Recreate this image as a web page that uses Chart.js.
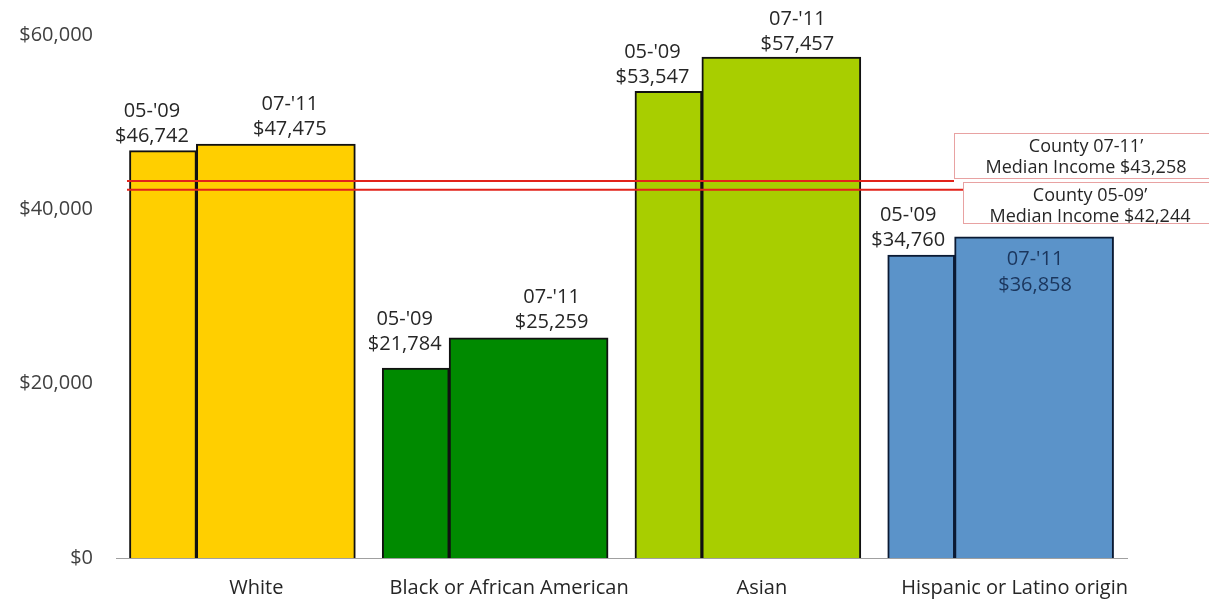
<!DOCTYPE html>
<html lang="en">
<head>
  <meta charset="UTF-8">
  <title>Median Household Income</title>
  <script src="https://cdn.jsdelivr.net/npm/chart.js"></script>
  <style>
    html, body { margin: 0; padding: 0; background: #fff; }
  </style>
</head>
<body>
  <canvas id="incomeChart" width="1209" height="600"></canvas>
  <script>
    // data
    const categories = ['White', 'Black or African American', 'Asian', 'Hispanic or Latino origin'];
    const periodLabels = ["05-'09", "07-'11"];
    const income0509 = [46742, 21784, 53547, 34760];
    const income0711 = [47475, 25259, 57457, 36858];
    const countyLabels = ['County 07-11\u2019', 'County 05-09\u2019'];
    const countyMedians = [43258, 42244];
    const yTicks = [0, 20000, 40000, 60000];

    const barColors = ['#FFCF00', '#008A00', '#A8CE00', '#5B93C9'];
    const edgeColors = ['#111111', '#111111', '#111111', '#0B1A33'];
    const FONT = '"Open Sans", "Noto Sans", sans-serif';

    // layout, in pixels: the narrow bar sits left of the wide one, the pair centred in its slot
    const NARROW = 67, WIDE = 159, SLOT = 253;
    const narrowShift = (NARROW / 2 - (NARROW + WIDE) / 2) / SLOT;
    const wideShift = (NARROW + WIDE / 2 - (NARROW + WIDE) / 2) / SLOT;

    // hand placed label nudges [dx, gap above bar top]; null = inside the bar
    const labelNudge = [
      [[-11, 14], [-11, 24], [-16, 14], [-13, 15]],
      [[14, 15], [23, 16], [16, 13], null]
    ];
    const countyBoxes = [
      { x: 954, y: 133, h: 45, cx: 1086 },
      { x: 963, y: 182, h: 41, cx: 1090 }
    ];

    const money = v => '$' + v.toLocaleString('en-US');

    const labelsPlugin = {
      id: 'labelsPlugin',
      afterDatasetsDraw(chart) {
        const { ctx, chartArea, scales } = chart;
        ctx.save();

        // county median lines and their boxes
        countyMedians.forEach((v, k) => {
          const y = scales.y.getPixelForValue(v);
          const b = countyBoxes[k];
          ctx.strokeStyle = '#E2231A';
          ctx.lineWidth = 2;
          ctx.beginPath();
          ctx.moveTo(chartArea.left + 11, y);
          ctx.lineTo(b.x, y);
          ctx.stroke();

          ctx.fillStyle = '#fff';
          ctx.fillRect(b.x, b.y, chart.width - b.x + 5, b.h);
          ctx.strokeStyle = '#E8A2A2';
          ctx.lineWidth = 1;
          ctx.strokeRect(b.x + 0.5, b.y + 0.5, chart.width - b.x + 5, b.h);

          ctx.fillStyle = '#262626';
          ctx.font = '18px ' + FONT;
          ctx.textAlign = 'center';
          ctx.textBaseline = 'middle';
          ctx.fillText(countyLabels[k], b.cx, b.y + 14);
          ctx.fillText('Median Income ' + money(v), b.cx, b.y + 35);
        });

        // bar labels
        ctx.font = '20px ' + FONT;
        ctx.textAlign = 'center';
        ctx.textBaseline = 'middle';
        chart.data.datasets.forEach((ds, d) => {
          chart.getDatasetMeta(d).data.forEach((bar, i) => {
            const value = ds.data[i].y;
            const nudge = labelNudge[d][i];
            if (nudge) {
              ctx.fillStyle = '#262626';
              ctx.fillText(money(value), bar.x + nudge[0], bar.y - nudge[1]);
              ctx.fillText(periodLabels[d], bar.x + nudge[0], bar.y - nudge[1] - 25);
            } else {
              ctx.fillStyle = '#1B365D';
              ctx.fillText(periodLabels[d], bar.x + 1, bar.y + 23);
              ctx.fillText(money(value), bar.x + 1, bar.y + 49);
            }
          });
        });
        ctx.restore();
      }
    };

    const ctx = document.getElementById('incomeChart').getContext('2d');
    new Chart(ctx, {
      type: 'bar',
      data: {
        datasets: [
          {
            label: periodLabels[0],
            data: income0509.map((v, i) => ({ x: i + narrowShift, y: v })),
            backgroundColor: barColors,
            borderColor: edgeColors,
            borderWidth: 2,
            barThickness: NARROW,
            grouped: false
          },
          {
            label: periodLabels[1],
            data: income0711.map((v, i) => ({ x: i + wideShift, y: v })),
            backgroundColor: barColors,
            borderColor: edgeColors,
            borderWidth: 2,
            barThickness: WIDE,
            grouped: false
          }
        ]
      },
      options: {
        responsive: false,
        animation: false,
        layout: { padding: { top: 33, right: 82, left: 0, bottom: 0 } },
        plugins: {
          legend: { display: false },
          tooltip: { enabled: false }
        },
        scales: {
          x: {
            type: 'linear',
            offset: false,
            min: -0.5,
            max: categories.length - 0.5,
            afterBuildTicks: scale => {
              scale.ticks = categories.map((c, i) => ({ value: i }));
            },
            afterFit: scale => { scale.height = 42; },
            grid: { display: false, drawTicks: false, offset: false },
            border: { display: true, color: '#A0A0A0', width: 1 },
            ticks: {
              callback: v => categories[v],
              font: { family: FONT, size: 20 },
              color: '#262626',
              padding: 18,
              labelOffset: 14,
              maxRotation: 0,
              autoSkip: false
            }
          },
          y: {
            min: 0,
            max: 60000,
            afterBuildTicks: scale => {
              scale.ticks = yTicks.map(v => ({ value: v }));
            },
            afterFit: scale => { scale.width = 116; },
            grid: { display: false, drawTicks: false },
            border: { display: false },
            ticks: {
              callback: v => money(v),
              font: { family: FONT, size: 20 },
              color: '#404040',
              padding: 23
            }
          }
        }
      },
      plugins: [labelsPlugin]
    });
  </script>
</body>
</html>
